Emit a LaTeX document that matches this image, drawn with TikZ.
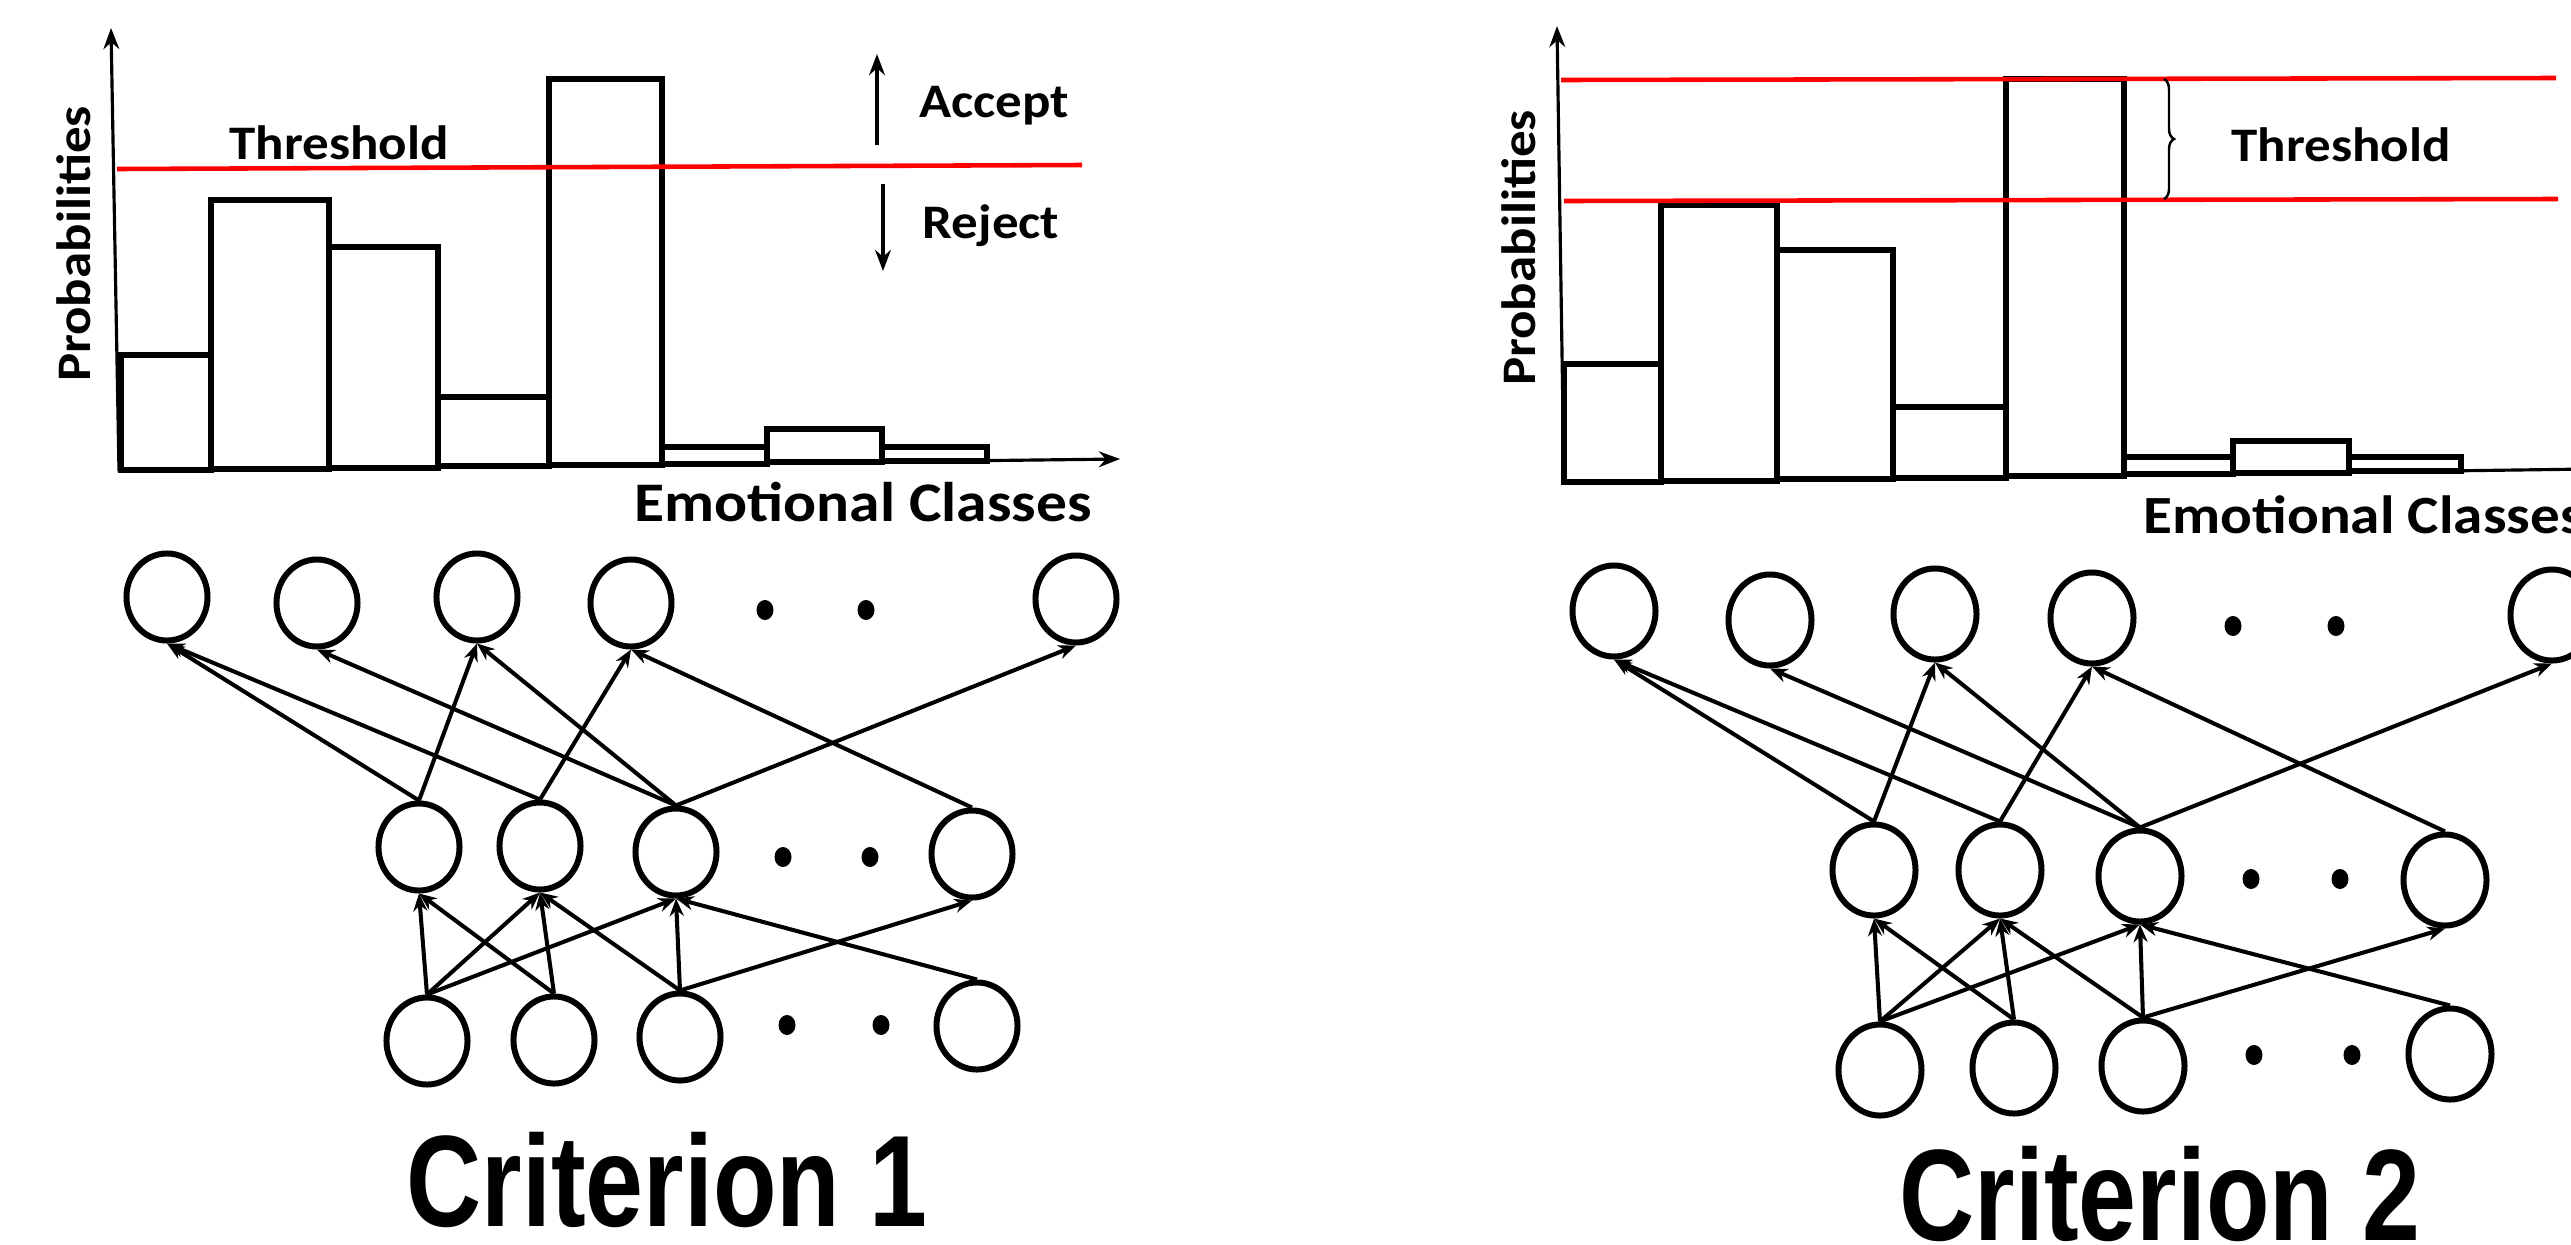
\documentclass[tikz,border=0pt]{standalone}
\usepackage{fontspec}
\setmainfont{Carlito}
\newfontfamily\labfont[FakeStretch=1.1]{Carlito}
\newfontfamily\critfont[FakeStretch=0.8]{Liberation Sans}
\usetikzlibrary{arrows.meta,decorations.pathreplacing,shapes.geometric}
\begin{document}
\begin{tikzpicture}[x=0.01cm,y=-0.01cm,
 neuL/.style={draw,ellipse,line width=1.7pt,inner sep=0pt,minimum width=0.81cm,minimum height=0.87cm},
 neuR/.style={draw,ellipse,line width=1.7pt,inner sep=0pt,minimum width=0.83cm,minimum height=0.91cm},
 dotn/.style={fill,ellipse,inner sep=0pt,minimum width=0.17cm,minimum height=0.2cm},
 conn/.style={line width=1.15pt,-{Stealth[length=5pt,width=4pt]}},
 bar/.style={draw,line width=1.8pt},
 axisl/.style={line width=0.9pt,-{Stealth[length=6pt,width=4.5pt]}},
 axisn/.style={line width=0.9pt},
 redl/.style={draw=red,line width=1.3pt},
 lab/.style={font=\labfont\bfseries\fontsize{13.7pt}{16pt}\selectfont,inner sep=0pt},
 labbig/.style={font=\labfont\bfseries\fontsize{15.9pt}{18pt}\selectfont,inner sep=0pt},
 labbigr/.style={font=\labfont\bfseries\fontsize{15.3pt}{18pt}\selectfont,inner sep=0pt},
 crit/.style={font=\critfont\bfseries\fontsize{37pt}{40pt}\selectfont,inner sep=0pt}]
\useasboundingbox (0,0) rectangle (2571,1245);
\clip (0,0) rectangle (2571,1245);

%% ================= LEFT PANEL =================
% bars
\draw[bar] (121,470) rectangle (211,355);
\draw[bar] (211,469) rectangle (329,200);
\draw[bar] (329,468) rectangle (438,247);
\draw[bar] (438,466) rectangle (549,397);
\draw[bar] (549,465) rectangle (662,79);
\draw[bar] (662,464) rectangle (767,447);
\draw[bar] (767,462) rectangle (882,429);
\draw[bar] (882,461) rectangle (987,447);
% axes
\coordinate (LO) at (119,471);
\coordinate (LY) at (111,28);
\coordinate (LX) at (1120,459);
\draw[axisl] (LO) -- (LY);
\draw[axisl] (LO) -- (LX);
% threshold line
\coordinate (LR0) at (117,169);
\coordinate (LR1) at (1082,165);
\draw[redl] (LR0) -- (LR1);
% accept / reject arrows
\coordinate (LA0) at (877,145);
\coordinate (LA1) at (877,54);
\coordinate (LJ0) at (883,184);
\coordinate (LJ1) at (883,271);
\draw[axisl] (LA0) -- (LA1);
\draw[axisl] (LJ0) -- (LJ1);
% labels
\node[lab,anchor=base] (Lthr) at (339,159) {Threshold};
\node[lab,anchor=base] (Lacc) at (994,117) {Accept};
\node[lab,anchor=base] (Lrej) at (991,238) {Reject};
\node[labbig,anchor=base] (Lemo) at (863,521) {Emotional Classes};
\node[lab,rotate=90] (Lprob) at (74,244) {Probabilities};

% network
\node[neuL] (Lt1) at (167,597) {};
\node[neuL] (Lt2) at (317,603) {};
\node[neuL] (Lt3) at (477,597) {};
\node[neuL] (Lt4) at (631,603) {};
\node[dotn] (Ltd1) at (765,610) {};
\node[dotn] (Ltd2) at (866,610) {};
\node[neuL] (Lt5) at (1076,599) {};

\node[neuL] (Lm1) at (419,847) {};
\node[neuL] (Lm2) at (540,846) {};
\node[neuL] (Lm3) at (676,852) {};
\node[dotn] (Lmd1) at (783,857) {};
\node[dotn] (Lmd2) at (870,857) {};
\node[neuL] (Lm4) at (972,854) {};

\node[neuL] (Lb1) at (427,1041) {};
\node[neuL] (Lb2) at (554,1040) {};
\node[neuL] (Lb3) at (680,1037) {};
\node[dotn] (Lbd1) at (787,1025) {};
\node[dotn] (Lbd2) at (881,1025) {};
\node[neuL] (Lb4) at (977,1026) {};

\draw[conn] (Lm1.north) -- (Lt1.south);
\draw[conn] (Lm1.north) -- (Lt3.south);
\draw[conn] (Lm2.north) -- (Lt1.south);
\draw[conn] (Lm2.north) -- (Lt4.south);
\draw[conn] (Lm3.north) -- (Lt2.south);
\draw[conn] (Lm3.north) -- (Lt3.south);
\draw[conn] (Lm3.north) -- (Lt5.south);
\draw[conn] (Lm4.north) -- (Lt4.south);

\draw[conn] (Lb1.north) -- (Lm1.south);
\draw[conn] (Lb1.north) -- (Lm2.south);
\draw[conn] (Lb1.north) -- (Lm3.south);
\draw[conn] (Lb2.north) -- (Lm1.south);
\draw[conn] (Lb2.north) -- (Lm2.south);
\draw[conn] (Lb3.north) -- (Lm2.south);
\draw[conn] (Lb3.north) -- (Lm3.south);
\draw[conn] (Lb3.north) -- (Lm4.south);
\draw[conn] (Lb4.north) -- (Lm3.south);

\node[crit,anchor=base] (Lcrit) at (667,1226) {Criterion 1};

%% ================= RIGHT PANEL =================
\draw[bar] (1564,482) rectangle (1661,364);
\draw[bar] (1661,481) rectangle (1777,205);
\draw[bar] (1777,479) rectangle (1893,250);
\draw[bar] (1893,478) rectangle (2006,407);
\draw[bar] (2006,476) rectangle (2124,79);
\draw[bar] (2124,474) rectangle (2233,457);
\draw[bar] (2233,473) rectangle (2349,441);
\draw[bar] (2349,471) rectangle (2461,457);
\coordinate (RO) at (1564,483);
\coordinate (RY) at (1557,26);
\coordinate (RX) at (2590,469);
\draw[axisl] (RO) -- (RY);
\draw[axisn] (RO) -- (RX);
\coordinate (RT0) at (1561,80);
\coordinate (RT1) at (2556,78);
\coordinate (RB0) at (1564,201);
\coordinate (RB1) at (2558,199);
\draw[redl] (RT0) -- (RT1);
\draw[redl] (RB0) -- (RB1);
\coordinate (RBr0) at (2164,79);
\coordinate (RBr1) at (2164,199);
\draw[line width=0.7pt,decorate,decoration={brace,amplitude=0.1cm}] (RBr0) -- (RBr1);
\node[lab,anchor=base] (Rthr) at (2341,161) {Threshold};
\node[labbigr,anchor=base west] (Remo) at (2143,533) {Emotional Classes};
\node[lab,rotate=90] (Rprob) at (1519,248) {Probabilities};

\node[neuR] (Rt1) at (1614,611) {};
\node[neuR] (Rt2) at (1770,620) {};
\node[neuR] (Rt3) at (1935,614) {};
\node[neuR] (Rt4) at (2092,618) {};
\node[dotn] (Rtd1) at (2233,626) {};
\node[dotn] (Rtd2) at (2336,626) {};
\node[neuR] (Rt5) at (2552,615) {};

\node[neuR] (Rm1) at (1874,870) {};
\node[neuR] (Rm2) at (2000,870) {};
\node[neuR] (Rm3) at (2140,876) {};
\node[dotn] (Rmd1) at (2251,879) {};
\node[dotn] (Rmd2) at (2340,879) {};
\node[neuR] (Rm4) at (2445,880) {};

\node[neuR] (Rb1) at (1880,1070) {};
\node[neuR] (Rb2) at (2014,1068) {};
\node[neuR] (Rb3) at (2143,1066) {};
\node[dotn] (Rbd1) at (2254,1055) {};
\node[dotn] (Rbd2) at (2352,1055) {};
\node[neuR] (Rb4) at (2450,1054) {};

\draw[conn] (Rm1.north) -- (Rt1.south);
\draw[conn] (Rm1.north) -- (Rt3.south);
\draw[conn] (Rm2.north) -- (Rt1.south);
\draw[conn] (Rm2.north) -- (Rt4.south);
\draw[conn] (Rm3.north) -- (Rt2.south);
\draw[conn] (Rm3.north) -- (Rt3.south);
\draw[conn] (Rm3.north) -- (Rt5.south);
\draw[conn] (Rm4.north) -- (Rt4.south);

\draw[conn] (Rb1.north) -- (Rm1.south);
\draw[conn] (Rb1.north) -- (Rm2.south);
\draw[conn] (Rb1.north) -- (Rm3.south);
\draw[conn] (Rb2.north) -- (Rm1.south);
\draw[conn] (Rb2.north) -- (Rm2.south);
\draw[conn] (Rb3.north) -- (Rm2.south);
\draw[conn] (Rb3.north) -- (Rm3.south);
\draw[conn] (Rb3.north) -- (Rm4.south);
\draw[conn] (Rb4.north) -- (Rm3.south);

\node[crit,anchor=base] (Rcrit) at (2160,1240) {Criterion 2};
\end{tikzpicture}
\end{document}
